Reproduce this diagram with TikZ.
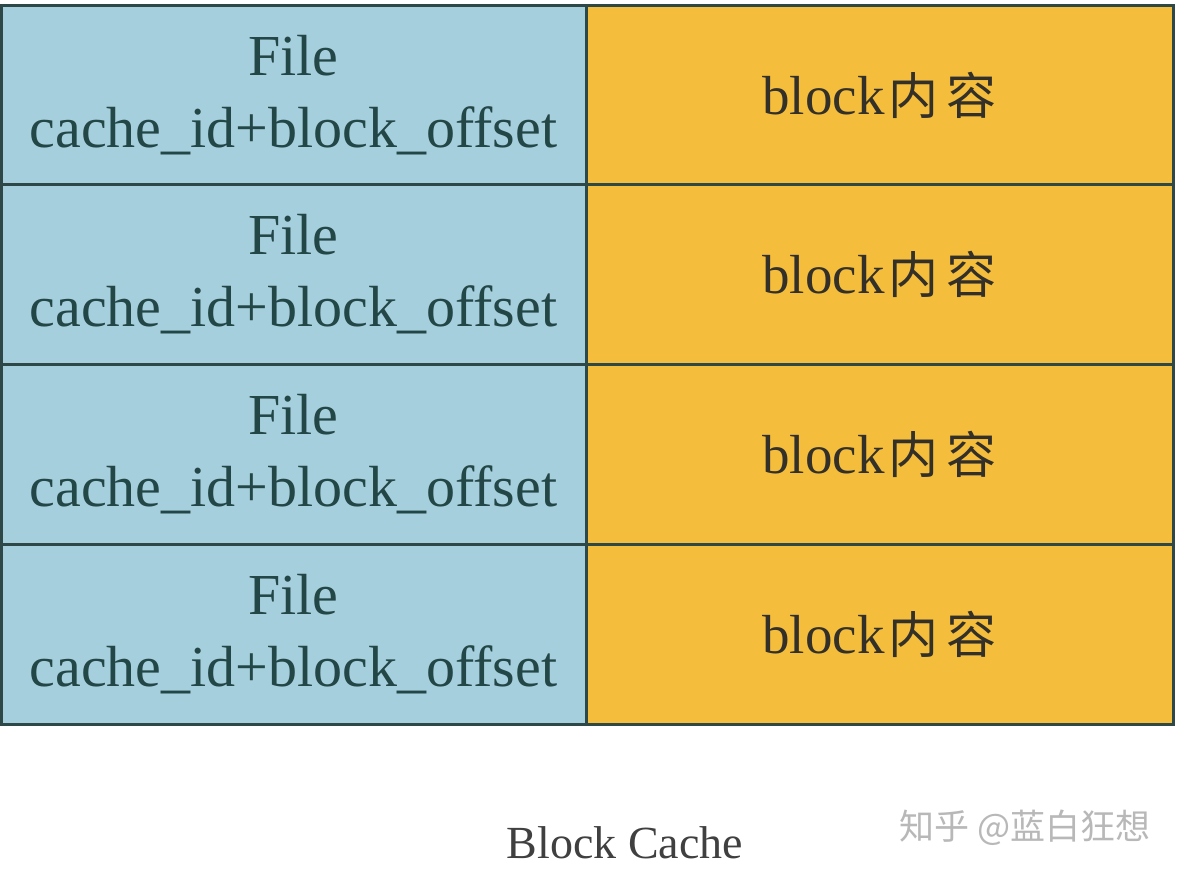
\documentclass[tikz,border=0pt]{standalone}
\usepackage{fontspec}
\setmainfont{Liberation Serif}
\newfontfamily\cjk{Noto Sans CJK SC}
\definecolor{cellblue}{HTML}{A6CFDD}
\definecolor{cellorange}{HTML}{F4BE3C}
\definecolor{edge}{HTML}{2E4848}
\definecolor{txt}{HTML}{234646}
\definecolor{wm}{HTML}{B8B8B8}
\begin{document}
\begin{tikzpicture}[x=1pt,y=-1pt,
  keycell/.style={draw=edge,line width=3pt,fill=cellblue,minimum width=585pt,minimum height=180pt,inner sep=0pt,outer sep=0pt,anchor=north west,text=txt,align=center,font=\fontsize{58}{72}\selectfont},
  valcell/.style={draw=edge,line width=3pt,fill=cellorange,minimum width=587pt,minimum height=180pt,inner sep=0pt,outer sep=0pt,anchor=north west,text=black!85!olive,font=\fontsize{55}{60}\selectfont}]
\useasboundingbox (0,0) rectangle (1182,876);
\fill[white] (0,0) rectangle (1182,876);
\foreach \i/\y in {1/5,2/184,3/364,4/544}{
  \node[keycell] (k\i) at (1,\y) {File\\cache\_id+block\_offset};
  \node[valcell] (v\i) at (586,\y) {block{\cjk\fontsize{50}{60}\selectfont\hspace{4pt}内\hspace{8pt}容}};
}
\node[text=black!75,font=\fontsize{46}{50}\selectfont] (title) at (625,843) {Block Cache};
\node[text=wm,font=\cjk\fontsize{35}{40}\selectfont] (mark) at (1025,828) {知乎 @蓝白狂想};
\end{tikzpicture}
\end{document}
